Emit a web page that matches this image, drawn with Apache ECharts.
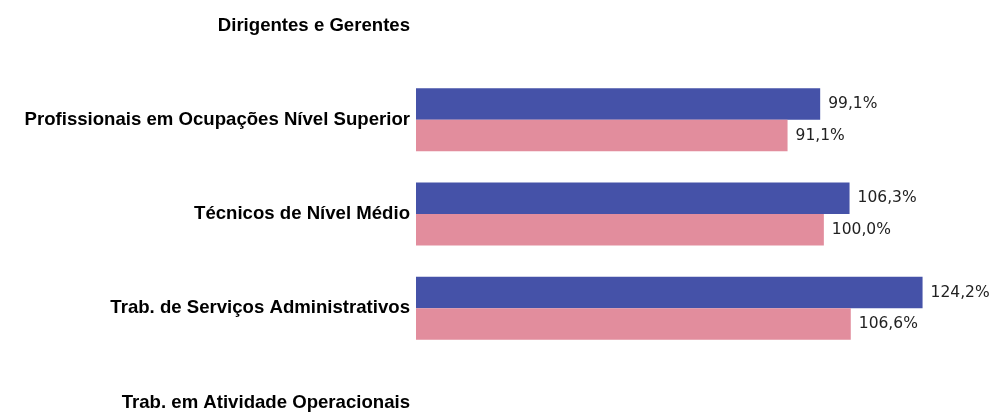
<!DOCTYPE html>
<html>
<head>
<meta charset="utf-8">
<script src="https://cdn.jsdelivr.net/npm/echarts@6/dist/echarts.min.js"></script>
<style>
  html, body { margin: 0; padding: 0; background: #fff; }
  #chart { width: 1000px; height: 412px; }
</style>
</head>
<body>
<div id="chart"></div>
<script>
const categories = [
  'Dirigentes e Gerentes',
  'Profissionais em Ocupações Nível Superior',
  'Técnicos de Nível Médio',
  'Trab. de Serviços Administrativos',
  'Trab. em Atividade Operacionais'
]
const serie1 = [null, 99.1, 106.3, 124.2, null]
const serie2 = [null, 91.1, 100.0, 106.6, null]

const fmt = (p) => p.value == null ? '' : p.value.toFixed(1).replace('.', ',') + '%'

const valueLabel = {
  show: true,
  position: 'right',
  distance: 8,
  formatter: fmt,
  color: '#222',
  fontFamily: 'DejaVu Sans',
  fontSize: 15.5
}

const chart = echarts.init(document.getElementById('chart'))

chart.setOption({
  backgroundColor: '#fff',
  animation: false,
  grid: {
    left: 416,
    right: 13,
    top: 25.5,
    bottom: 2.5
  },
  xAxis: {
    type: 'value',
    min: 0,
    max: 140,
    show: false
  },
  yAxis: {
    type: 'category',
    data: categories,
    inverse: true,
    boundaryGap: false,
    axisLine: { show: false },
    axisTick: { show: false },
    splitLine: { show: false },
    axisLabel: {
      margin: 6,
      color: '#000',
      fontFamily: 'Liberation Sans',
      fontWeight: 'bold',
      fontSize: 18.6,
      padding: [0, 0, 8, 0]
    }
  },
  series: [
    {
      name: 'Série 1',
      type: 'bar',
      data: serie1,
      barWidth: 31.5,
      barGap: '0%',
      itemStyle: { color: '#4552a8' },
      label: valueLabel
    },
    {
      name: 'Série 2',
      type: 'bar',
      data: serie2,
      barWidth: 31.5,
      barGap: '0%',
      itemStyle: { color: '#e28d9d' },
      label: valueLabel
    }
  ]
})
</script>
</body>
</html>
